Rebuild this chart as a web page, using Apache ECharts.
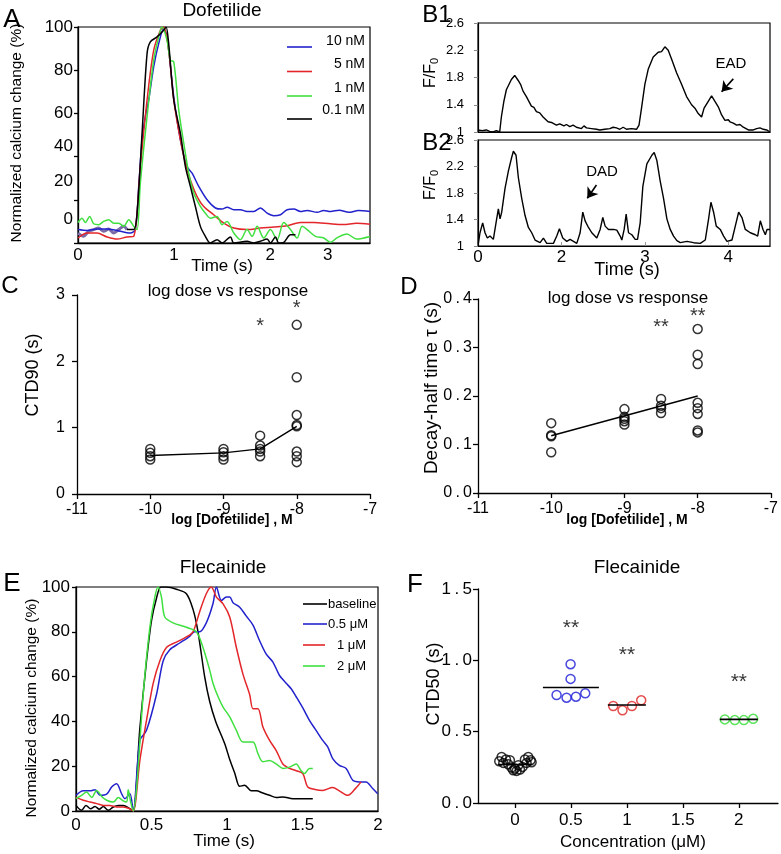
<!DOCTYPE html>
<html>
<head>
<meta charset="utf-8">
<script src="https://cdn.jsdelivr.net/npm/echarts@6/dist/echarts.min.js"></script>
<style>
  html, body { margin: 0; background: #fff; }
  #chart { width: 781px; height: 854px; }
</style>
</head>
<body>
<div id="chart"></div>
<script>
// ---- A: Dofetilide traces, [time s, % change]
const aTrace10nM = [[0,6.2],[0.094,5.8],[0.198,6.5],[0.302,6.5],[0.406,5.8],[0.545,4.6],[0.597,6.2],[0.632,26.2],[0.667,47.7],[0.701,58.5],[0.736,66.2],[0.788,81.5],[0.840,92.3],[0.892,99.2],[0.927,95.4],[0.997,67.7],[1.066,47.7],[1.135,35.4],[1.188,32.3],[1.257,26.2],[1.344,20],[1.431,16.2],[1.500,15.7],[1.552,16.6],[1.622,15.4],[1.691,15.4],[1.760,14.6],[1.830,14.6],[1.899,16.2],[1.969,13.8],[2.038,12.6],[2.108,13.1],[2.177,15.4],[2.247,15.7],[2.316,14.6],[2.385,15.1],[2.490,14.2],[2.559,15.1],[2.628,14.6],[2.72,15.2],[2.82,14.2],[2.92,15],[3.04,14.6]];
const aTrace5nM = [[0,2.3],[0.094,4.6],[0.198,4.6],[0.302,2.8],[0.406,1.8],[0.510,2.8],[0.580,3.1],[0.649,35.4],[0.719,66.2],[0.788,89.2],[0.858,98.5],[0.892,100],[0.944,89.2],[0.997,66.2],[1.066,47.7],[1.118,36.9],[1.170,29.2],[1.240,21.5],[1.309,16.9],[1.413,13.1],[1.517,9.2],[1.622,6.9],[1.760,6.2],[1.899,6.9],[2.038,7.4],[2.177,8],[2.316,9.5],[2.455,9.5],[2.628,8.9],[2.76,8.6],[2.9,9.1],[3.04,8.7]];
const aTrace1nM = [[0,9.5],[0.042,11.5],[0.076,9.5],[0.122,12.3],[0.163,8.9],[0.215,8.5],[0.267,10],[0.319,10.8],[0.372,9.2],[0.424,9.2],[0.476,7.7],[0.528,10.8],[0.580,7.7],[0.615,6.2],[0.649,27.7],[0.719,58.5],[0.788,84.6],[0.840,95.4],[0.875,100],[0.927,93.8],[0.962,84.6],[0.997,83.8],[1.049,61.5],[1.101,46.2],[1.153,32.3],[1.205,23.1],[1.274,16.9],[1.326,13.8],[1.378,11.5],[1.448,12.3],[1.500,8.5],[1.552,10],[1.622,4.6],[1.691,1.5],[1.760,6.2],[1.813,3.1],[1.865,7.7],[1.934,2.3],[2.003,6.2],[2.073,1.5],[2.142,9.5],[2.212,6.2],[2.281,2.3],[2.333,7.7],[2.385,6.2],[2.472,3.1],[2.559,2.3],[2.628,0.3],[2.7,2.5],[2.8,4.2],[2.9,1.8],[3.04,3]];
const aTrace01nM = [[0.510,6.2],[0.580,6.2],[0.615,13.8],[0.667,50.8],[0.719,87.7],[0.753,93.1],[0.823,95.4],[0.892,98.5],[0.917,100],[0.944,92.3],[0.997,66.2],[1.066,50.8],[1.118,35.4],[1.170,26.2],[1.222,16.9],[1.274,7.7],[1.326,3.1],[1.378,0],[1.448,1.5],[1.500,0],[1.587,2.8],[1.622,0],[1.760,0.8],[1.830,0],[1.899,0.8],[1.969,1.8],[2.003,0],[2.056,2.8],[2.090,0],[2.142,0.3],[2.212,3.8],[2.264,3.8]];
const aBaselineOverlap = [[0,4.6],[0.059,3.1],[0.111,5.4],[0.163,6.2],[0.215,6.9],[0.267,5.4],[0.319,6.5],[0.372,4.6],[0.424,6.2],[0.476,7.7],[0.510,6.2]];
const aLegend = ['10 nM', '5 nM', '1 nM', '0.1 nM'];

// ---- B: F/F0 traces, [time s, F/F0]
const b1Trace = [[1.00,1.03],[1.05,1.02],[1.10,1.03],[1.14,1.01],[1.18,1.00],[1.22,1.02],[1.26,1.00],[1.28,1.22],[1.31,1.45],[1.34,1.62],[1.40,1.77],[1.44,1.83],[1.48,1.76],[1.51,1.70],[1.54,1.60],[1.58,1.52],[1.60,1.50],[1.64,1.38],[1.67,1.36],[1.70,1.30],[1.74,1.28],[1.78,1.22],[1.80,1.24],[1.84,1.15],[1.88,1.14],[1.94,1.10],[1.98,1.12],[2.03,1.09],[2.06,1.11],[2.10,1.08],[2.14,1.10],[2.18,1.07],[2.24,1.05],[2.27,1.09],[2.30,1.06],[2.36,1.05],[2.42,1.04],[2.46,1.03],[2.52,1.04],[2.58,1.05],[2.62,1.07],[2.66,1.06],[2.70,1.04],[2.74,1.07],[2.78,1.04],[2.84,1.05],[2.90,1.04],[2.93,1.10],[2.96,1.35],[3.00,1.70],[3.04,1.92],[3.10,2.10],[3.16,2.17],[3.20,2.18],[3.24,2.25],[3.28,2.20],[3.32,2.07],[3.38,1.87],[3.44,1.70],[3.50,1.52],[3.52,1.50],[3.56,1.40],[3.60,1.35],[3.64,1.27],[3.68,1.22],[3.71,1.35],[3.76,1.45],[3.80,1.53],[3.84,1.45],[3.88,1.37],[3.92,1.25],[3.96,1.17],[4.00,1.18],[4.02,1.15],[4.06,1.13],[4.10,1.10],[4.14,1.11],[4.18,1.07],[4.24,1.03],[4.30,1.03],[4.34,1.05],[4.38,1.06],[4.42,1.04],[4.46,1.03],[4.50,1.00]];
const b2Trace = [[1.004,1.04],[1.024,1.20],[1.056,1.35],[1.084,1.20],[1.112,1.12],[1.144,1.15],[1.184,1.10],[1.216,1.35],[1.244,1.56],[1.264,1.41],[1.284,1.51],[1.324,1.87],[1.364,2.13],[1.404,2.34],[1.424,2.43],[1.456,2.37],[1.484,2.03],[1.524,1.72],[1.564,1.46],[1.604,1.28],[1.644,1.20],[1.684,1.09],[1.744,1.05],[1.784,1.12],[1.824,1.04],[1.904,1.04],[1.944,1.15],[1.976,1.26],[2.016,1.12],[2.064,1.07],[2.104,1.10],[2.144,1.07],[2.184,1.04],[2.224,1.20],[2.256,1.51],[2.284,1.38],[2.324,1.28],[2.364,1.20],[2.424,1.12],[2.464,1.25],[2.496,1.43],[2.524,1.30],[2.564,1.25],[2.624,1.25],[2.664,1.24],[2.704,1.15],[2.724,1.09],[2.752,1.25],[2.776,1.48],[2.804,1.20],[2.844,1.17],[2.884,1.10],[2.912,1.10],[2.944,1.35],[2.976,1.90],[3.024,2.24],[3.084,2.37],[3.112,2.41],[3.144,2.29],[3.184,1.98],[3.224,1.72],[3.264,1.41],[3.304,1.25],[3.344,1.15],[3.384,1.08],[3.424,1.05],[3.504,1.07],[3.584,1.05],[3.664,1.04],[3.724,1.09],[3.764,1.41],[3.792,1.66],[3.824,1.51],[3.856,1.30],[3.904,1.25],[3.944,1.15],[3.984,1.07],[4.044,1.09],[4.084,1.30],[4.124,1.51],[4.164,1.43],[4.204,1.25],[4.264,1.20],[4.324,1.17],[4.352,1.15],[4.384,1.38],[4.416,1.25],[4.444,1.17],[4.464,1.25],[4.500,1.25]];
const eadArrow = [[4.06, 1.78], [3.92, 1.59]];
const dadArrow = [[2.42, 1.92], [2.31, 1.72]];

// ---- C / D: log dose vs response
const logDose = [-10, -9, -8.5, -8];
const ctd90 = [[0.68,0.62,0.57,0.52],[0.68,0.63,0.57,0.52],[0.88,0.73,0.68,0.64,0.57],[2.55,1.76,1.19,1.04,1.02,0.64,0.57,0.48]];
const ctd90Mean = [0.58, 0.62, 0.68, 1.02];
const ctd90Stars = [[-8.5, 2.52, '*'], [-8, 2.79, '*']];
const decayTau = [[0.144,0.119,0.117,0.084],[0.173,0.157,0.153,0.148,0.141],[0.194,0.180,0.175,0.165],[0.338,0.285,0.266,0.186,0.175,0.163,0.129,0.125]];
const decayFit = [[-10, 0.118], [-8, 0.2]];
const decayStars = [[-8.5, 0.342, '**'], [-8, 0.363, '**']];

// ---- E: Flecainide traces, [time s, % change]
const eBaseline = [[0,2.5],[0.037,0.3],[0.066,2.5],[0.097,1],[0.126,2],[0.154,0.8],[0.181,2],[0.214,0.3],[0.247,1.8],[0.280,2.5],[0.313,2.5],[0.357,1],[0.379,0],[0.423,37],[0.467,67],[0.500,85],[0.533,95],[0.562,100],[0.599,100],[0.665,99],[0.731,97],[0.775,90],[0.808,80],[0.852,60],[0.885,49],[0.925,40],[0.985,30],[1.018,23],[1.051,17],[1.084,11],[1.117,11.5],[1.161,9],[1.194,9],[1.238,8],[1.282,7],[1.326,6],[1.370,6.3],[1.436,5.5],[1.568,5.5]];
const e05uM = [[0,7],[0.048,9],[0.093,9],[0.126,9.5],[0.159,7],[0.203,7.5],[0.236,10.7],[0.269,12.2],[0.302,7.7],[0.324,5.5],[0.357,7.7],[0.379,0],[0.423,31.5],[0.467,36],[0.533,52],[0.577,67],[0.621,72],[0.687,75],[0.753,78],[0.786,80],[0.819,80],[0.863,84],[0.907,92.5],[0.930,100],[0.963,94],[0.996,95.5],[1.018,95.5],[1.040,93],[1.084,91],[1.128,87],[1.172,83],[1.216,76],[1.260,70],[1.304,66.5],[1.348,60.5],[1.392,57],[1.425,54.6],[1.458,51],[1.502,46],[1.546,40.5],[1.590,36],[1.634,31.5],[1.667,28.6],[1.700,23.4],[1.744,20.4],[1.789,19],[1.833,13.7],[1.877,13],[1.921,13],[1.965,10],[1.998,7.7]];
const e1uM = [[0,6.2],[0.048,4.8],[0.093,4],[0.137,3.3],[0.181,2.5],[0.225,2.5],[0.269,1.8],[0.313,1.8],[0.357,1],[0.379,0],[0.423,22.6],[0.467,40.5],[0.511,57],[0.555,67],[0.599,73],[0.665,75.4],[0.731,77.7],[0.775,80],[0.819,89],[0.863,97],[0.896,100],[0.930,95.5],[0.974,92.5],[1.018,86.6],[1.062,73],[1.106,61],[1.150,52],[1.172,45.7],[1.205,45.7],[1.238,37.5],[1.282,31.5],[1.326,27],[1.370,21],[1.414,19],[1.458,18],[1.502,16.7],[1.535,10.7],[1.590,9.5],[1.634,9.2],[1.700,10.5],[1.744,9],[1.800,7],[1.850,10],[1.888,13]];
const e2uM = [[0,5.5],[0.037,7],[0.070,8.5],[0.104,6],[0.137,9.2],[0.170,6.5],[0.203,4.8],[0.247,4],[0.280,6],[0.313,4.5],[0.335,4],[0.346,9.5],[0.362,4],[0.379,0],[0.401,10],[0.445,52],[0.489,82],[0.522,95.5],[0.544,100],[0.566,95.5],[0.588,86.6],[0.643,84],[0.731,82],[0.797,80],[0.841,73],[0.885,63],[0.907,57],[0.941,51],[0.974,46.4],[1.018,42],[1.062,36],[1.106,30.8],[1.172,30.8],[1.205,25.6],[1.238,22],[1.282,22.6],[1.326,21],[1.370,19],[1.414,19.6],[1.458,21],[1.491,18],[1.513,16.7],[1.546,19],[1.568,19]];
const eLegend = ['baseline', '0.5 \u03bcM', '1 \u03bcM', '2 \u03bcM'];

// ---- F: CTD50 per concentration, [jittered conc, s]
const fConc = [0, 0.5, 1, 2];
const fBaseline = [[-0.119,0.323],[-0.080,0.305],[-0.140,0.293],[-0.104,0.281],[-0.060,0.272],[-0.030,0.248],[-0.015,0.230],[0.015,0.225],[0.045,0.234],[0.068,0.253],[0.089,0.305],[0.119,0.323],[0.140,0.300],[0.104,0.281],[0.149,0.286],[0.030,0.265],[-0.045,0.300],[0,0.241]];
const f05uM = [[0.497,0.973],[0.497,0.87],[0.372,0.757],[0.461,0.738],[0.545,0.745],[0.628,0.769]];
const f1uM = [[0.878,0.68],[0.961,0.65],[1.045,0.68],[1.128,0.72]];
const f2uM = [[1.875,0.586],[1.964,0.581],[2.045,0.581],[2.128,0.59]];
const fMeans = [0.27, 0.81, 0.687, 0.586];
const fMeanHalf = [0.15, 0.25, 0.17, 0.17];
const fStars = [[0.5, 1.226, '**'], [1, 1.037, '**'], [2, 0.848, '**']];

const FONT = '"Liberation Sans", Arial, Helvetica, sans-serif';
const BLUE = '#2222cc', RED = '#e3262a', GREEN = '#3fe03f';

function ax(grid, min, max, o) {
  o = o || {};
  return {
    type: 'value', gridIndex: grid, min: min, max: max, interval: o.interval,
    axisLine: { show: true, onZero: false, lineStyle: { color: '#000', width: o.lw || 1.3 } },
    axisTick: Object.assign({ show: true, length: 5, lineStyle: { color: '#000', width: o.lw || 1.3 } }, o.tick),
    axisLabel: Object.assign({ color: '#000', fontFamily: FONT, fontSize: 16, margin: 6, showMinLabel: true, showMaxLabel: true, hideOverlap: false }, o.label),
    splitLine: { show: false }
  };
}

function trace(i, data, color, width, smooth) {
  return { type: 'line', xAxisIndex: i, yAxisIndex: i, data: data, symbol: 'none', smooth: smooth || false,
    lineStyle: { color: color, width: width || 1.5 }, itemStyle: { color: color }, z: 3 };
}

function dots(i, data, color) {
  return { type: 'scatter', xAxisIndex: i, yAxisIndex: i, data: data, symbol: 'circle', symbolSize: 9,
    itemStyle: { color: 'rgba(0,0,0,0)', borderColor: color, borderWidth: 1.5 }, z: 4 };
}

function stars(i, data, size) {
  return { type: 'scatter', xAxisIndex: i, yAxisIndex: i, data: data, symbolSize: 1,
    itemStyle: { color: 'rgba(0,0,0,0)' },
    label: { show: true, position: 'inside', formatter: p => p.value[2], color: '#000', fontSize: size, fontFamily: FONT } };
}

function arrow(i, pts) {
  return { type: 'line', xAxisIndex: i, yAxisIndex: i, data: [], markLine: {
    silent: true, symbol: ['none', 'arrow'], symbolSize: 10, animation: false,
    lineStyle: { color: '#000', width: 1.6, type: 'solid' }, label: { show: false },
    data: [[{ coord: pts[0] }, { coord: pts[1] }]] } };
}

function txt(x, y, text, size, extra) {
  extra = extra || {};
  return { type: 'text', x: x, y: y, rotation: extra.rot || 0, z: 10,
    style: { text: text, fill: '#000', align: extra.align || 'center', verticalAlign: 'middle',
      font: (extra.weight || 'normal') + ' ' + size + 'px ' + FONT, rich: extra.rich } };
}

function hline(x1, x2, y, color) {
  return { type: 'line', z: 10, shape: { x1: x1, y1: y, x2: x2, y2: y }, style: { stroke: color, lineWidth: 1.6 } };
}

const boxed = { show: true, borderColor: '#000', borderWidth: 1.2, backgroundColor: 'transparent' };
const aShift = { 0: 48, 20: 36, 40: 20 };
const aRich = {};
[0, 20, 40, 60, 80, 100].forEach(v => { aRich['s' + v] = { padding: [0, 0, aShift[v] || 0, 0] }; });
const up = Math.PI / 2;
const ffRich = { a: { fontSize: 16, fontFamily: FONT }, b: { fontSize: 11, fontFamily: FONT, padding: [7, 0, 0, 0] } };

const cPts = logDose.flatMap((d, i) => ctd90[i].map(v => [d, v]));
const dPts = logDose.flatMap((d, i) => decayTau[i].map(v => [d, v]));
const fMeanLines = fConc.map((c, i) => ({ type: 'line', xAxisIndex: 6, yAxisIndex: 6, symbol: 'none',
  data: [[c - fMeanHalf[i], fMeans[i]], [c + fMeanHalf[i], fMeans[i]]], lineStyle: { color: '#000', width: 1.6 }, z: 5 }));

const option = {
  animation: false,
  textStyle: { fontFamily: FONT },
  grid: [
    Object.assign({ left: 78, top: 27, width: 292, height: 216 }, boxed),
    Object.assign({ left: 478, top: 23, width: 292, height: 109 }, boxed),
    Object.assign({ left: 478, top: 140, width: 292, height: 106 }, boxed),
    { left: 77, top: 295, width: 293, height: 199 },
    { left: 478, top: 299, width: 294, height: 194 },
    Object.assign({ left: 76, top: 587, width: 302, height: 224 }, boxed),
    { left: 478, top: 589, width: 300, height: 214 }
  ],
  xAxis: [
    ax(0, 0, 3.04, { tick: { show: false }, label: { fontSize: 17, margin: 4, customValues: [0, 1, 2, 2.6], formatter: v => (v > 2.5 ? '3' : String(v)) } }),
    ax(1, 1, 4.5, { lw: 1.2, tick: { show: false }, label: { show: false } }),
    ax(2, 1, 4.5, { lw: 1.2, tick: { inside: true, length: 4, customValues: [2, 3, 4], lineStyle: { color: '#999', width: 1 } },
      label: { fontSize: 17, margin: 3, customValues: [1, 2, 3, 4], formatter: v => (v === 1 ? '0' : String(v)) } }),
    ax(3, -11, -7, { interval: 1, label: { margin: 8 } }),
    ax(4, -11, -7, { interval: 1, label: { margin: 8 } }),
    ax(5, 0, 2, { interval: 0.5, tick: { show: false }, label: { fontSize: 17, margin: 6 } }),
    ax(6, -0.33, 2.35, { tick: { customValues: [0, 0.5, 1, 1.5, 2] }, label: { fontSize: 17, margin: 9, customValues: [0, 0.5, 1, 1.5, 2] } })
  ],
  yAxis: [
    ax(0, 0, 100, { interval: 20, tick: { length: 4 }, label: { fontSize: 17, margin: 5, formatter: v => '{s' + v + '|' + v + '}', rich: aRich } }),
    ax(1, 1, 2.6, { lw: 1.2, tick: { length: 4, customValues: [1, 1.4, 1.8, 2.2, 2.6], lineStyle: { color: '#888', width: 1 } }, label: { fontSize: 13, margin: 14, customValues: [1, 1.4, 1.8, 2.2, 2.6] } }),
    ax(2, 1, 2.6, { lw: 1.2, tick: { length: 4, customValues: [1, 1.4, 1.8, 2.2, 2.6], lineStyle: { color: '#888', width: 1 } }, label: { fontSize: 13, margin: 14, customValues: [1, 1.4, 1.8, 2.2, 2.6] } }),
    ax(3, 0, 3, { interval: 1, label: { margin: 12 } }),
    ax(4, 0, 0.4, { interval: 0.1, label: { margin: 6, formatter: v => v.toFixed(1).split('').join('\u2009') } }),
    ax(5, 0, 100, { interval: 20, tick: { length: 4 }, label: { fontSize: 17, margin: 6 } }),
    ax(6, 0, 1.5, { interval: 0.5, label: { fontSize: 17, margin: 6, formatter: v => v.toFixed(1).split('').join('\u2009') } })
  ],
  series: [
    trace(0, aBaselineOverlap, '#7a6aa6', 3, 0.3),
    trace(0, aTrace10nM, BLUE, 1.5, 0.3),
    trace(0, aTrace5nM, RED, 1.5, 0.3),
    trace(0, aTrace1nM, GREEN, 1.5, 0.3),
    trace(0, aTrace01nM, '#000', 1.5, 0.3),
    trace(1, b1Trace, '#000', 1.4),
    trace(2, b2Trace, '#000', 1.4),
    arrow(1, eadArrow),
    arrow(2, dadArrow),
    dots(3, cPts, '#000'),
    trace(3, logDose.map((d, i) => [d, ctd90Mean[i]]), '#000', 1.4),
    stars(3, ctd90Stars, 20),
    dots(4, dPts, '#000'),
    trace(4, decayFit, '#000', 1.4),
    stars(4, decayStars, 20),
    trace(5, eBaseline, '#000', 1.5, 0.3),
    trace(5, e05uM, BLUE, 1.5, 0.3),
    trace(5, e1uM, RED, 1.5, 0.3),
    trace(5, e2uM, GREEN, 1.5, 0.3),
    ...fMeanLines,
    dots(6, fBaseline, '#000'),
    dots(6, f05uM, '#1a1ad6'),
    dots(6, f1uM, '#e02020'),
    dots(6, f2uM, '#33dd33'),
    stars(6, fStars, 21)
  ],
  graphic: [
    // A
    txt(12, 20, 'A', 26),
    txt(222, 11, 'Dofetilide', 19),
    txt(17, 133, 'Normalized calcium change (%)', 15.5, { rot: up }),
    txt(222, 266, 'Time (s)', 17),
    ...aLegend.map((t, i) => txt(365, [41, 64, 88, 110][i], t, 14, { align: 'right' })),
    hline(287, 312, 47, BLUE), hline(287, 312, 71.5, RED), hline(287, 312, 96, GREEN), hline(287, 312, 119, '#000'),
    // B
    txt(437, 15, 'B1', 24),
    txt(437, 143, 'B2', 24),
    txt(431, 73, '{a|F/F}{b|0}', 16, { rot: up, rich: ffRich }),
    txt(431, 185, '{a|F/F}{b|0}', 16, { rot: up, rich: ffRich }),
    txt(731, 64, 'EAD', 15),
    txt(602, 172, 'DAD', 15),
    txt(627, 270, 'Time (s)', 18),
    // C
    txt(10, 286, 'C', 24),
    txt(228, 291, 'log dose vs response', 17),
    txt(33, 375, 'CTD90 (s)', 18, { rot: up }),
    txt(232, 520, 'log [Dofetilide] , M', 14, { weight: 'bold' }),
    // D
    txt(409, 287, 'D', 24),
    txt(628, 298, 'log dose vs response', 17),
    txt(432, 388, 'Decay-half time \u03c4 (s)', 19, { rot: up }),
    txt(627, 520, 'log [Dofetilide] , M', 14, { weight: 'bold' }),
    // E
    txt(12, 584, 'E', 26),
    txt(223, 568, 'Flecainide', 19),
    txt(32, 708, 'Normalized calcium change (%)', 15.5, { rot: up }),
    txt(224, 841, 'Time (s)', 17),
    hline(303, 327, 604, '#000'), hline(303, 327, 624, BLUE), hline(303, 325, 645, RED), hline(303, 325, 666, GREEN),
    ...eLegend.map((t, i) => txt(i < 2 ? 328 : 337, [604, 624, 645, 666][i], t, 13, { align: 'left' })),
    // F
    txt(415, 585, 'F', 26),
    txt(637, 568, 'Flecainide', 19),
    txt(434, 684, 'CTD50 (s)', 18, { rot: up }),
    txt(633, 842, 'Concentration (\u03bcM)', 17)
  ]
};

const myChart = echarts.init(document.getElementById('chart'));
myChart.setOption(option);
</script>
</body>
</html>
